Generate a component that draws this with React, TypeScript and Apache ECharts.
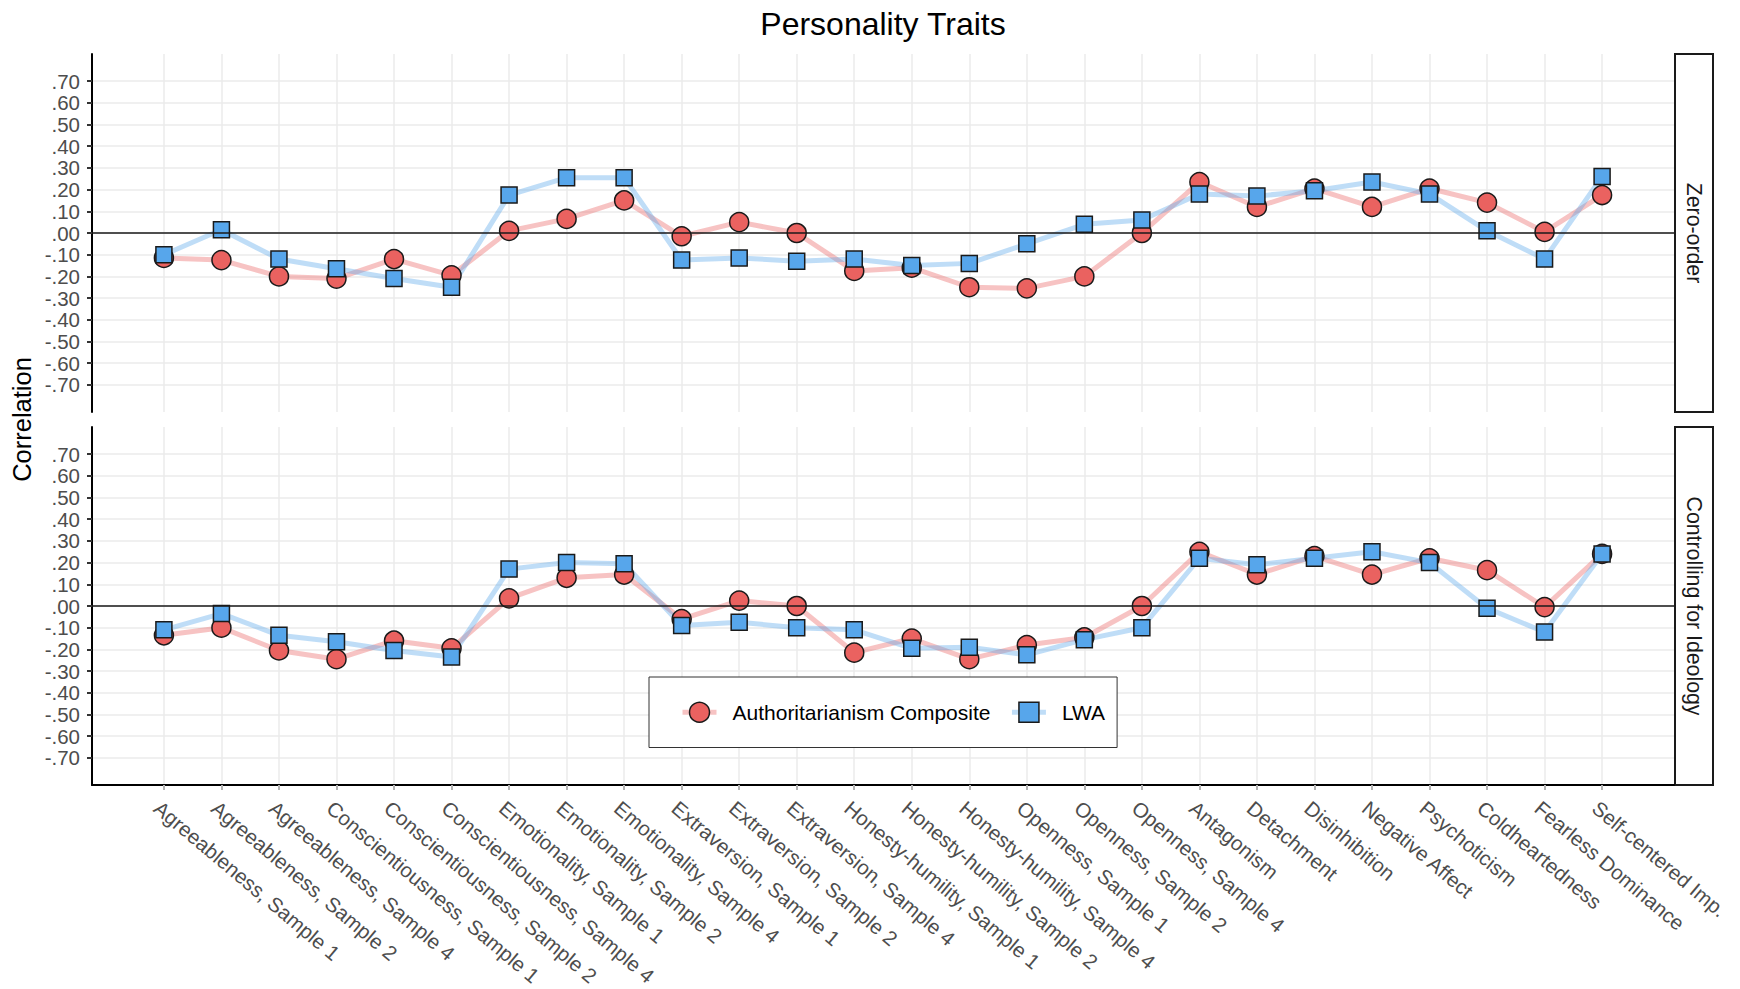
import React, { useEffect, useRef } from "react";
import * as echarts from "echarts";

const categories = [
  "Agreeableness, Sample 1",
  "Agreeableness, Sample 2",
  "Agreeableness, Sample 4",
  "Conscientiousness, Sample 1",
  "Conscientiousness, Sample 2",
  "Conscientiousness, Sample 4",
  "Emotionality, Sample 1",
  "Emotionality, Sample 2",
  "Emotionality, Sample 4",
  "Extraversion, Sample 1",
  "Extraversion, Sample 2",
  "Extraversion, Sample 4",
  "Honesty-humility, Sample 1",
  "Honesty-humility, Sample 2",
  "Honesty-humility, Sample 4",
  "Openness, Sample 1",
  "Openness, Sample 2",
  "Openness, Sample 4",
  "Antagonism",
  "Detachment",
  "Disinhibition",
  "Negative Affect",
  "Psychoticism",
  "Coldheartedness",
  "Fearless Dominance",
  "Self-centered Imp.",
];

const seriesNames = ["Authoritarianism Composite", "LWA"];
const panelNames = ["Zero-order", "Controlling for Ideology"];

const zeroOrderAuth = [
  -0.115, -0.125, -0.2, -0.21, -0.12, -0.195, 0.01, 0.065, 0.15, -0.015, 0.05, 0.0, -0.175,
  -0.16, -0.25, -0.255, -0.2, 0.0, 0.235, 0.12, 0.205, 0.12, 0.205, 0.14, 0.005, 0.175,
];
const zeroOrderLWA = [
  -0.1, 0.015, -0.12, -0.165, -0.21, -0.25, 0.175, 0.255, 0.255, -0.125, -0.115, -0.13, -0.12,
  -0.15, -0.14, -0.05, 0.04, 0.06, 0.18, 0.17, 0.195, 0.235, 0.18, 0.01, -0.12, 0.26,
];
const controlAuth = [
  -0.135, -0.1, -0.205, -0.245, -0.16, -0.195, 0.035, 0.13, 0.145, -0.06, 0.025, 0.0, -0.215,
  -0.15, -0.245, -0.18, -0.145, 0.0, 0.25, 0.145, 0.23, 0.145, 0.22, 0.165, -0.005, 0.24,
];
const controlLWA = [
  -0.11, -0.035, -0.135, -0.165, -0.205, -0.235, 0.17, 0.2, 0.195, -0.09, -0.075, -0.1, -0.11,
  -0.195, -0.19, -0.225, -0.155, -0.1, 0.22, 0.19, 0.22, 0.25, 0.2, -0.01, -0.12, 0.24,
];

const yTickValues = [-0.7, -0.6, -0.5, -0.4, -0.3, -0.2, -0.1, 0, 0.1, 0.2, 0.3, 0.4, 0.5, 0.6, 0.7];

const FONT = "'Liberation Sans', Arial, Helvetica, sans-serif";
const RED = "#EA6260";
const BLUE = "#57A6EB";
const RED_LINE = "rgba(234, 98, 96, 0.38)";
const BLUE_LINE = "rgba(87, 166, 235, 0.38)";
const MARK_BORDER = "#1a1a1a";

const PLOT_L = 92;
const PLOT_W = 1582;
const PANEL_TOPS = [54, 427];
const PANEL_H = 358;
const STRIP_X = 1675;
const STRIP_W = 38;

const fmtY = (v: number) => {
  const r = Math.round(v * 100);
  const s = String(Math.abs(r)).padStart(2, "0");
  return (r < 0 ? "-" : "") + "." + s;
};

const toXY = (arr: number[]) => arr.map((v, i) => [i, v]);

export default function App() {
  const ref = useRef<HTMLDivElement>(null);

  useEffect(() => {
    if (!ref.current) return;
    const chart = echarts.init(ref.current, null, { renderer: "svg" });
    const panelData = [
      [zeroOrderAuth, zeroOrderLWA],
      [controlAuth, controlLWA],
    ];
    const catIdx = categories.map((_, i) => i);

    const grids = PANEL_TOPS.map((top) => ({
      left: PLOT_L,
      top,
      width: PLOT_W,
      height: PANEL_H,
      containLabel: false,
    }));

    const xAxes = [0, 1].map((p) => ({
      type: "value",
      gridIndex: p,
      min: -1.25,
      max: categories.length - 1 + 1.25,
      axisLine: {
        show: p === 1,
        onZero: false,
        lineStyle: { color: "#000", width: 2 },
      },
      axisTick: {
        show: p === 1,
        customValues: catIdx,
        length: 5,
        lineStyle: { color: "#B3B3B3", width: 2 },
      },
      axisLabel: {
        show: p === 1,
        customValues: catIdx,
        rotate: -40,
        margin: 12,
        verticalAlign: "top",
        fontSize: 20.5,
        fontFamily: FONT,
        color: "#4D4D4D",
        formatter: (v: number) => categories[Math.round(v)] ?? "",
      },
      splitLine: {
        show: true,
        lineStyle: { color: "#EBEBEB", width: 1.5 },
      },
    }));

    const yAxes = [0, 1].map((p) => ({
      type: "value",
      gridIndex: p,
      min: -0.825,
      max: 0.825,
      axisLine: { show: true, onZero: false, lineStyle: { color: "#000", width: 2 } },
      axisTick: {
        show: true,
        customValues: yTickValues,
        length: 5,
        lineStyle: { color: "#333", width: 2 },
      },
      axisLabel: {
        show: true,
        customValues: yTickValues,
        margin: 12,
        fontSize: 20.5,
        fontFamily: FONT,
        color: "#4D4D4D",
        formatter: fmtY,
      },
      splitLine: { show: true, lineStyle: { color: "#EBEBEB", width: 1.5 } },
    }));

    const series: any[] = [];
    [0, 1].forEach((p) => {
      const [auth, lwa] = panelData[p];
      series.push({
        type: "line",
        name: seriesNames[0],
        xAxisIndex: p,
        yAxisIndex: p,
        data: toXY(auth),
        symbol: "circle",
        showSymbol: false,
        lineStyle: { color: RED_LINE, width: 5 },
        itemStyle: { color: RED, borderColor: MARK_BORDER, borderWidth: 1.5 },
        z: 2,
        silent: true,
        markLine: {
          silent: true,
          symbol: "none",
          label: { show: false },
          lineStyle: { color: "#1a1a1a", width: 1.5, type: "solid" },
          data: [{ yAxis: 0 }],
        },
      });
      series.push({
        type: "line",
        name: seriesNames[1],
        xAxisIndex: p,
        yAxisIndex: p,
        data: toXY(lwa),
        symbol: "rect",
        showSymbol: false,
        lineStyle: { color: BLUE_LINE, width: 5 },
        itemStyle: { color: BLUE, borderColor: MARK_BORDER, borderWidth: 1.5 },
        z: 2,
        silent: true,
      });
      series.push({
        type: "scatter",
        name: seriesNames[0],
        xAxisIndex: p,
        yAxisIndex: p,
        data: toXY(auth),
        symbol: "circle",
        symbolSize: 19,
        itemStyle: { color: RED, borderColor: MARK_BORDER, borderWidth: 1.5, opacity: 1 },
        z: 3,
        silent: true,
      });
      series.push({
        type: "scatter",
        name: seriesNames[1],
        xAxisIndex: p,
        yAxisIndex: p,
        data: toXY(lwa),
        symbol: "rect",
        symbolSize: 16,
        itemStyle: { color: BLUE, borderColor: MARK_BORDER, borderWidth: 1.5, opacity: 1 },
        z: 4,
        silent: true,
      });
    });

    const graphic: any[] = [
      {
        type: "text",
        x: PLOT_L + PLOT_W / 2,
        y: 24,
        style: {
          text: "Personality Traits",
          fill: "#000",
          fontSize: 32,
          fontFamily: FONT,
          align: "center",
          verticalAlign: "middle",
        },
        silent: true,
      },
      {
        type: "text",
        x: 22,
        y: (PANEL_TOPS[0] + PANEL_TOPS[1] + PANEL_H) / 2,
        rotation: Math.PI / 2,
        style: {
          text: "Correlation",
          fill: "#000",
          fontSize: 25.5,
          fontFamily: FONT,
          align: "center",
          verticalAlign: "middle",
        },
        silent: true,
      },
    ];
    PANEL_TOPS.forEach((top, p) => {
      graphic.push({
        type: "rect",
        shape: { x: STRIP_X, y: top, width: STRIP_W, height: PANEL_H },
        style: { fill: "#fff", stroke: "#1a1a1a", lineWidth: 2 },
        silent: true,
      });
      graphic.push({
        type: "text",
        x: STRIP_X + STRIP_W / 2,
        y: top + PANEL_H / 2,
        rotation: -Math.PI / 2,
        style: {
          text: panelNames[p],
          fill: "#1a1a1a",
          fontSize: 21.3,
          fontFamily: FONT,
          align: "center",
          verticalAlign: "middle",
        },
        silent: true,
      });
    });

    const option: any = {
      animation: false,
      backgroundColor: "#fff",
      grid: grids,
      xAxis: xAxes,
      yAxis: yAxes,
      legend: {
        left: 649,
        top: 677,
        orient: "horizontal",
        selectedMode: false,
        padding: [24.5, 12, 24.5, 31],
        itemWidth: 34,
        itemHeight: 25,
        itemGap: 19,
        borderColor: "#333",
        borderWidth: 1,
        backgroundColor: "#fff",
        textStyle: { fontSize: 21, color: "#000", fontFamily: FONT, padding: [0, 0, 0, 11] },
        data: [
          {
            name: seriesNames[0],
            itemStyle: { color: RED, borderColor: MARK_BORDER, borderWidth: 1.5 },
            lineStyle: { color: RED_LINE, width: 5 },
          },
          {
            name: seriesNames[1],
            itemStyle: { color: BLUE, borderColor: MARK_BORDER, borderWidth: 1.5 },
            lineStyle: { color: BLUE_LINE, width: 5 },
          },
        ],
      },
      series,
      graphic,
    };
    chart.setOption(option);
    return () => chart.dispose();
  }, []);

  return (
    <div
      ref={ref}
      style={{ position: "absolute", left: 0, top: 0, width: 1740, height: 989, background: "#fff" }}
    />
  );
}
